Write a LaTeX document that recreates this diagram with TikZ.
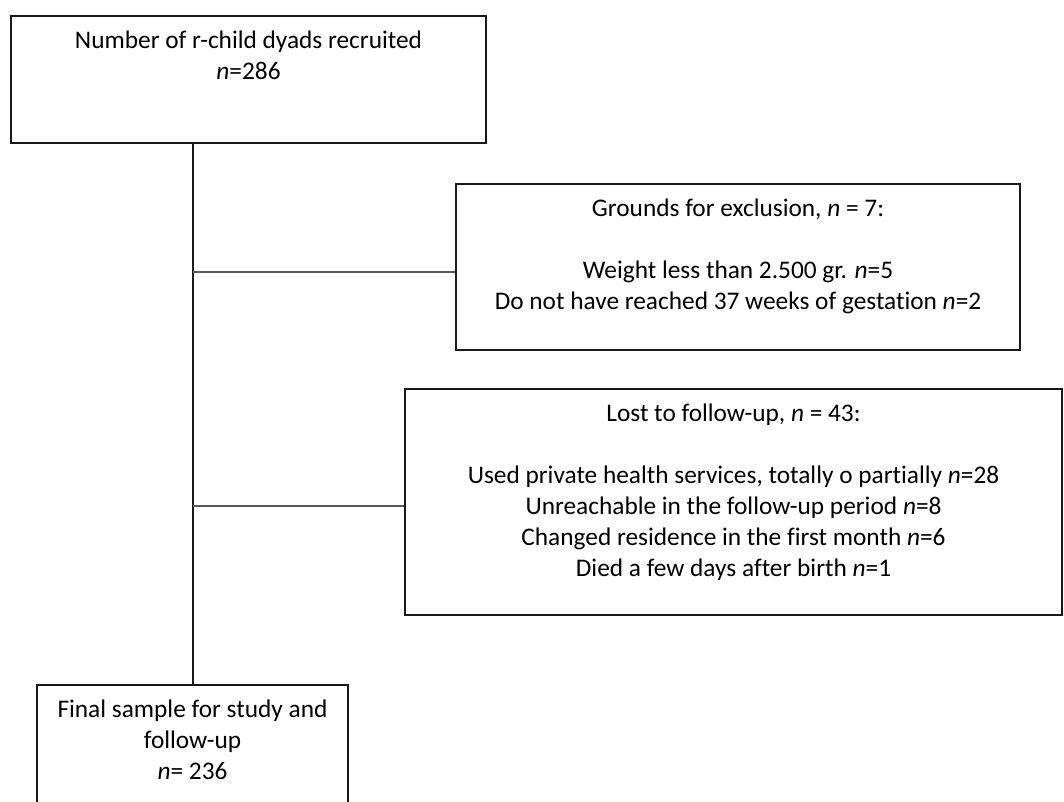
\documentclass[tikz,border=0pt]{standalone}
\usepackage{fontspec}
\setmainfont{Carlito}[Ligatures={NoCommon}]
\begin{document}
\begin{tikzpicture}[x=0.75pt,y=-0.75pt,
  box/.style={draw=black!90,line width=2pt,rectangle,inner sep=0pt},
  txt/.style={inner sep=0pt,align=center,anchor=north,font=\fontsize{19}{23.25}\selectfont},
  trunk/.style={draw=black!90,line width=1.5pt},
  branch/.style={draw=black!65,line width=0.9pt}]
\clip (0,0) rectangle (1064,801);
% boxes
\node[box,minimum width=356.25pt,minimum height=95.25pt] (top) at (248.5,79.5) {};
\node[box,minimum width=423pt,minimum height=124.5pt] (excl) at (738,267) {};
\node[box,minimum width=492.75pt,minimum height=169.5pt] (lost) at (733.5,502) {};
\node[box,minimum width=233.25pt,minimum height=116.25pt] (final) at (192.5,762.5) {};
% texts
\node[txt] (topT) at ([yshift=-12pt]top.north) {Number of r-child dyads recruited\\\textit{n}=286};
\node[txt] (exclT) at ([yshift=-12pt]excl.north) {Grounds for exclusion, \textit{n} = 7:\\[23.25pt]Weight less than 2.500 gr. \textit{n}=5\\Do not have reached 37 weeks of gestation \textit{n}=2};
\node[txt] (lostT) at ([yshift=-12pt]lost.north) {Lost to follow-up, \textit{n} = 43:\\[23.25pt]Used private health services, totally o partially \textit{n}=28\\Unreachable in the follow-up period \textit{n}=8\\Changed residence in the first month \textit{n}=6\\Died a few days after birth \textit{n}=1};
\node[txt] (finalT) at ([yshift=-12pt]final.north) {Final sample for study and\\follow-up\\\textit{n}= 236};
% connectors
\coordinate (j1) at (193,272);
\coordinate (j2) at (193,506);
\draw[trunk] (final.north |- top.south) -- (final.north);
\draw[branch] (j1) -- (j1 -| excl.west);
\draw[branch] (j2) -- (j2 -| lost.west);
\end{tikzpicture}
\end{document}
